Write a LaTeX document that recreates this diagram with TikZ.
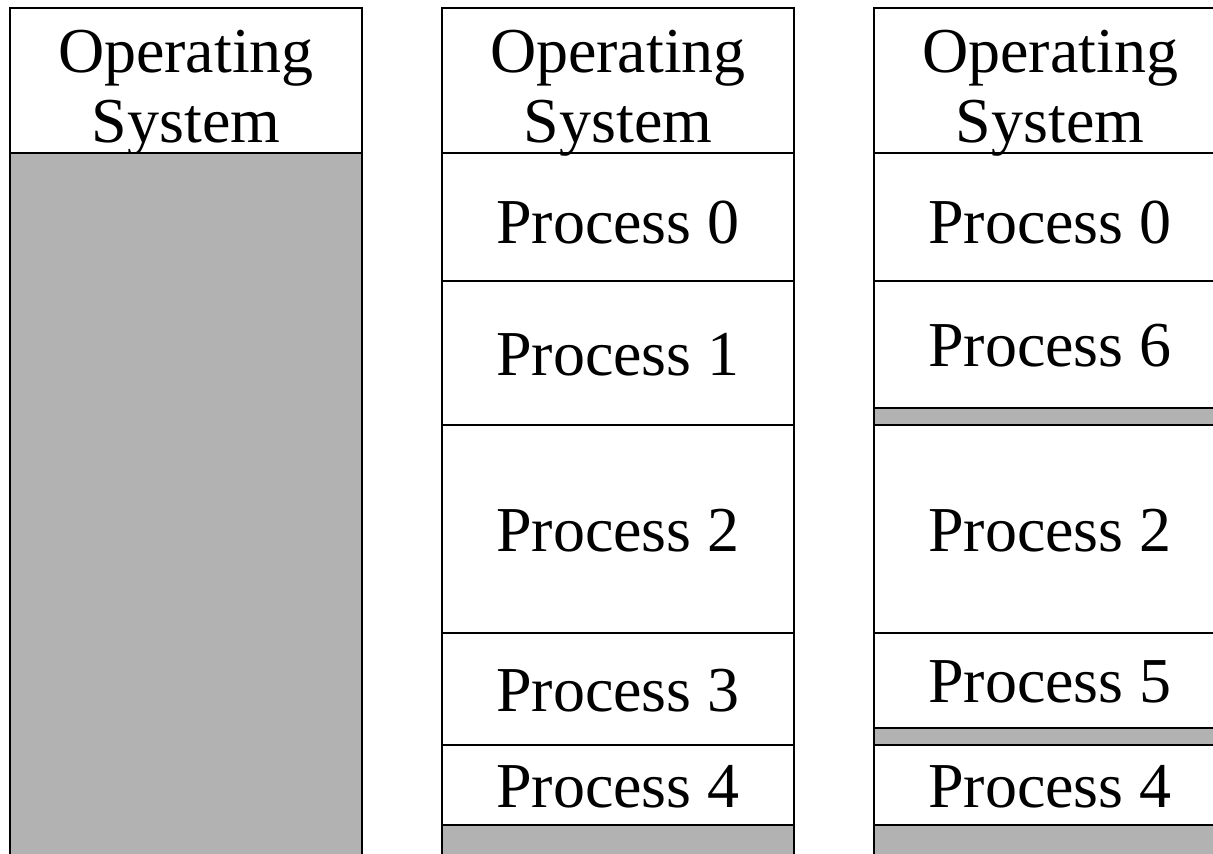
\documentclass[tikz,border=0pt]{standalone}
\usepackage{fontspec}
\setmainfont{Liberation Serif}
\usetikzlibrary{positioning}

\begin{document}
\begin{tikzpicture}[x=0.5pt,y=-0.5pt,font=\fontsize{32}{35}\selectfont]
  \tikzset{
    blk/.style={draw, line width=1pt, inner sep=0pt, outer sep=0pt, anchor=north west,
      minimum width=176pt, minimum height=#1*0.5pt, text depth=0pt},
    proc/.style={blk=#1, text height=22pt},
    hole/.style={blk=#1, fill=black!30},
    os/.style={blk=145, align=center, text height=61.5pt}
  }
  \useasboundingbox (0,0) rectangle (1213,853);
  \clip (0,0) rectangle (1213,853);
  % empty memory
  \node[os] (osA) at (10,8) {Operating\\System};
  \node[hole=740] (freeA) at (10,153) {};
  % five processes loaded
  \node[os] (osB) at (442,8) {Operating\\System};
  \node[proc=128, text height=26pt] (pB0) at (442,153) {Process 0};
  \node[proc=144] (pB1) at (442,281) {Process 1};
  \node[proc=208] (pB2) at (442,425) {Process 2};
  \node[proc=112] (pB3) at (442,633) {Process 3};
  \node[proc=80] (pB4) at (442,745) {Process 4};
  \node[hole=60] (freeB) at (442,825) {};
  % after swapping, with holes
  \node[os] (osC) at (874,8) {Operating\\System};
  \node[proc=128, text height=26pt] (pC0) at (874,153) {Process 0};
  \node[proc=127] (pC6) at (874,281) {Process 6};
  \node[hole=17] (holeC1) at (874,408) {};
  \node[proc=208] (pC2) at (874,425) {Process 2};
  \node[proc=95] (pC5) at (874,633) {Process 5};
  \node[hole=17] (holeC2) at (874,728) {};
  \node[proc=80] (pC4) at (874,745) {Process 4};
  \node[hole=60] (freeC) at (874,825) {};
\end{tikzpicture}
\end{document}
